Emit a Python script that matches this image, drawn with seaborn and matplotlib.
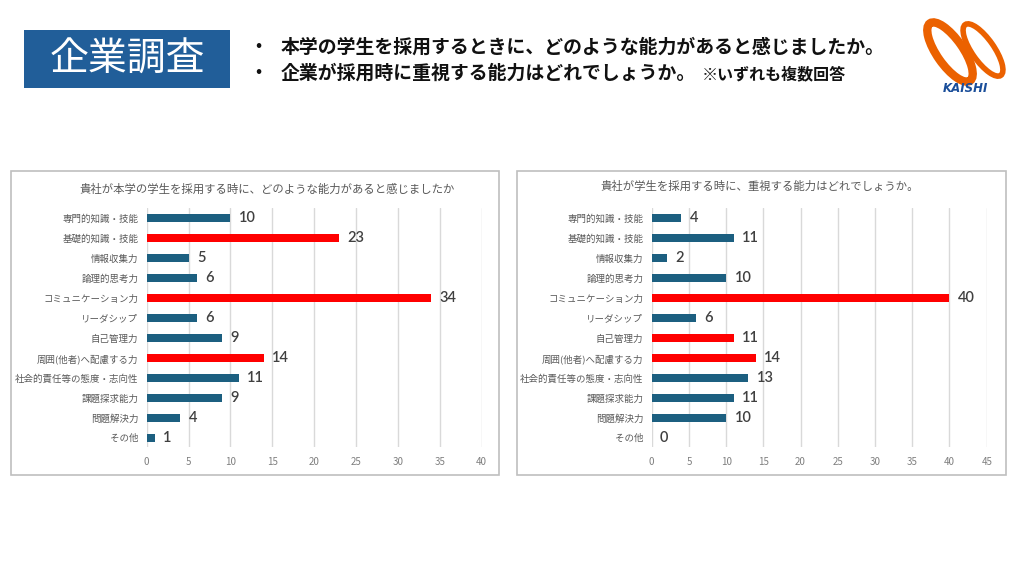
import matplotlib
matplotlib.use("Agg")
import matplotlib.pyplot as plt
import seaborn as sns
import pandas as pd
from matplotlib.patches import Rectangle, Ellipse

sns.set_theme(style="white")
plt.rcParams['font.family'] = ['Noto Sans CJK JP', 'DejaVu Sans']

categories = ["専門的知識・技能", "基礎的知識・技能", "情報収集力", "論理的思考力",
              "コミュニケーション力", "リーダシップ", "自己管理力", "周囲(他者)へ配慮する力",
              "社会的責任等の態度・志向性", "課題探求能力", "問題解決力", "その他"]
values_left = [10, 23, 5, 6, 34, 6, 9, 14, 11, 9, 4, 1]
values_right = [4, 11, 2, 10, 40, 6, 11, 14, 13, 11, 10, 0]
highlight_left = [1, 4, 7]
highlight_right = [4, 6, 7]
title_left = "貴社が本学の学生を採用する時に、どのような能力があると感じましたか"
title_right = "貴社が学生を採用する時に、重視する能力はどれでしょうか。"
xticks_left = [0, 5, 10, 15, 20, 25, 30, 35, 40]
xticks_right = [0, 5, 10, 15, 20, 25, 30, 35, 40, 45]
header_box = "企業調査"
bullet1 = "本学の学生を採用するときに、どのような能力があると感じましたか。"
bullet2 = "企業が採用時に重視する能力はどれでしょうか。"
bullet2_note = "※いずれも複数回答"

BLUE = "#1C5F80"
RED = "#FF0000"
W, H = 1024, 563

fig = plt.figure(figsize=(W / 100, H / 100), dpi=100)
fig.patch.set_facecolor("white")

ov = fig.add_axes([0, 0, 1, 1])
ov.set_xlim(0, W)
ov.set_ylim(H, 0)
ov.axis("off")
ov.set_zorder(-1)

# header box
ov.add_patch(Rectangle((24, 30), 206, 58, facecolor="#215E99", edgecolor="none"))
ov.text(127, 60, header_box, color="white", fontsize=28, ha="center", va="center")
ov.text(258, 47, "・", fontsize=13, fontweight="bold", ha="center", va="center", color="#111111")
ov.text(258, 73, "・", fontsize=13, fontweight="bold", ha="center", va="center", color="#111111")
ov.text(281, 47, bullet1, fontsize=13.6, fontweight="bold", ha="left", va="center", color="#111111")
t2 = ov.text(281, 73, bullet2, fontsize=13.6, fontweight="bold", ha="left", va="center", color="#111111")
fig.canvas.draw()
bb = t2.get_window_extent()
x_end = bb.x1
ov.text(x_end + 6, 74, bullet2_note, fontsize=11.5, fontweight="bold", ha="left", va="center",
        color="#111111", transform=None) if False else None
ov.annotate(bullet2_note, xy=(x_end + 6, (H - 74)), xycoords="figure pixels",
            fontsize=11.5, fontweight="bold", ha="left", va="center", color="#111111")

# logo
ov.add_patch(Ellipse((950, 52), 26, 70, angle=-35, fill=False, edgecolor="#EB6100", linewidth=6))
ov.add_patch(Ellipse((983, 50), 22, 62, angle=-35, fill=False, edgecolor="#EB6100", linewidth=4))
ov.text(965, 88, "KAISHI", fontsize=8.5, fontweight="bold", fontstyle="italic",
        color="#1A4E9A", ha="center", va="center", family=["DejaVu Sans"])

# chart frames
ov.add_patch(Rectangle((10.5, 170.5), 488, 304, fill=False, edgecolor="#BFBFBF", linewidth=1.2))
ov.add_patch(Rectangle((516.5, 170.5), 489, 304, fill=False, edgecolor="#BFBFBF", linewidth=1.2))
ov.text(267, 189, title_left, fontsize=8.2, color="#595959", ha="center", va="center")
ov.text(760, 186, title_right, fontsize=8.2, color="#595959", ha="center", va="center")


def draw(ax, values, highlight, xticks):
    df = pd.DataFrame({"cat": categories, "val": values})
    palette = {c: (RED if i in highlight else BLUE) for i, c in enumerate(categories)}
    sns.barplot(data=df, x="val", y="cat", hue="cat", palette=palette, legend=False,
                width=0.4, ax=ax, zorder=3, saturation=1, linewidth=0, dodge=False)
    for cont in ax.containers:
        ax.bar_label(cont, padding=6, fontsize=10.5, color="#404040",
                     family=["Lato", "DejaVu Sans"], fontweight="semibold")
    ax.set_xlim(xticks[0], xticks[-1])
    ax.set_ylim(len(categories) - 0.53, -0.52)
    ax.set_xticks(xticks)
    ax.grid(axis="x", color="#D9D9D9", linewidth=1, zorder=0)
    ax.grid(axis="y", visible=False)
    for s in ax.spines.values():
        s.set_visible(False)
    ax.set_xlabel("")
    ax.set_ylabel("")
    ax.tick_params(axis="x", length=0, labelsize=7, labelcolor="#7F7F7F", pad=7)
    ax.tick_params(axis="y", length=0, labelsize=6.8, labelcolor="#595959", pad=6)
    ax.set_facecolor("none")


axL = fig.add_axes([146.7 / W, 1 - 447 / H, 335 / W, 239 / H])
draw(axL, values_left, highlight_left, xticks_left)
axR = fig.add_axes([651.7 / W, 1 - 447 / H, 335 / W, 239 / H])
draw(axR, values_right, highlight_right, xticks_right)

fig.savefig("out.png", dpi=100, facecolor="white")
